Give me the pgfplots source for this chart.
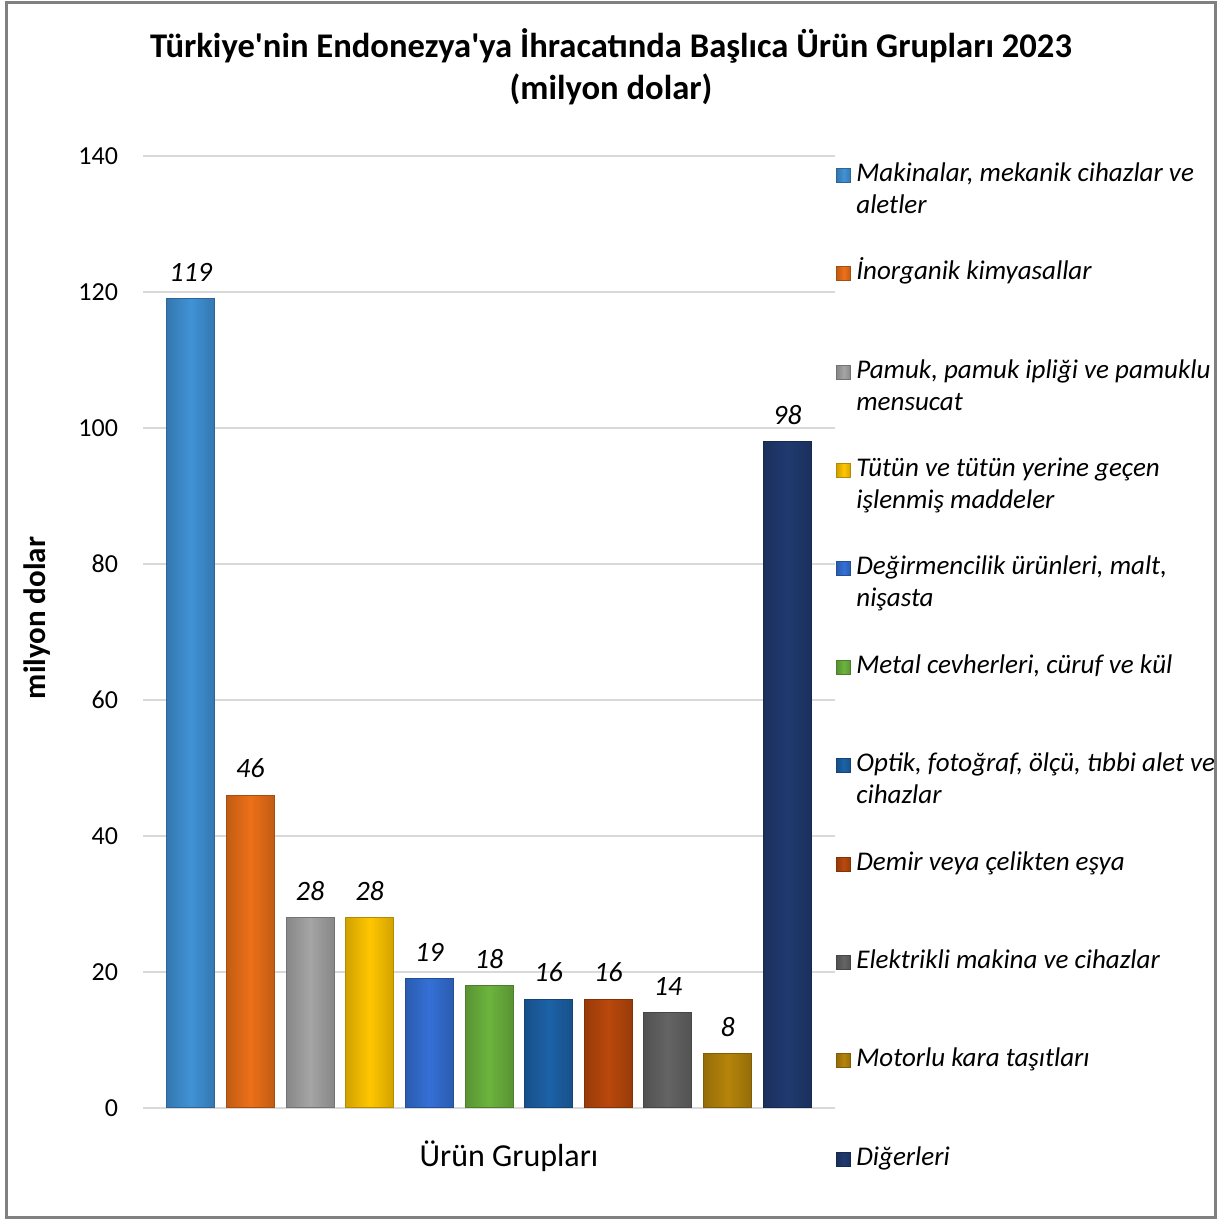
\documentclass[border=0pt]{standalone}
\usepackage{pgfplots}
\pgfplotsset{compat=1.18}
\usepackage{fontspec}
\setmainfont{Carlito}

\definecolor{c1}{RGB}{64,146,214}
\definecolor{c2}{RGB}{236,112,24}
\definecolor{c3}{RGB}{165,165,165}
\definecolor{c4}{RGB}{255,198,0}
\definecolor{c5}{RGB}{52,112,214}
\definecolor{c6}{RGB}{108,180,62}
\definecolor{c7}{RGB}{28,98,168}
\definecolor{c8}{RGB}{186,72,12}
\definecolor{c9}{RGB}{100,100,100}
\definecolor{c10}{RGB}{182,132,10}
\definecolor{c11}{RGB}{32,58,112}
\definecolor{framegray}{RGB}{128,128,128}

% legend square sits at the first of two text lines
\pgfplotsset{
  squarelegend/.style={legend image code/.code={\fill[##1] (0pt,15.5pt) rectangle (7pt,22.5pt);}},
  bevel/.style={fill=#1, draw=#1!70!black, left color=#1!82!black, right color=#1!82!black, middle color=#1},
}

\begin{document}
\begin{tikzpicture}
\useasboundingbox (0,0) rectangle (608.5pt,610pt);
\begin{axis}[
  at={(71.5pt,56pt)}, anchor=south west,
  scale only axis, width=346pt, height=476pt,
  ybar,
  xmin=-0.8, xmax=10.8, ymin=0, ymax=140,
  ytick={0,20,...,140}, xtick=\empty,
  axis line style={draw=none},
  major tick length=0pt,
  ymajorgrids,
  major grid style={draw=black!15, line width=1pt},
  /pgf/number format/assume math mode=true,
  yticklabel style={font=\fontsize{13}{15}\selectfont, xshift=-9pt},
  nodes near coords,
  every node near coord/.append style={font=\fontsize{14}{16}\selectfont\itshape, yshift=5pt},
  legend style={at={(1.0014,1.0015)}, anchor=north west, draw=none, fill=none,
    inner sep=0pt, row sep=16.5pt, column sep=0.5pt,
    font=\fontsize{13.5}{16}\selectfont\itshape,
    cells={anchor=base west, align=left, inner sep=0pt}},
  every axis plot/.append style={bar shift=0pt, bar width=24pt, line width=0.5pt, squarelegend},
]
\addplot[bevel=c1] coordinates {(0,119)};
\addlegendentry{\strut Makinalar, mekanik cihazlar ve\\aletler\strut}
\addplot[bevel=c2] coordinates {(1,46)};
\addlegendentry{\strut İnorganik kimyasallar\\\strut}
\addplot[bevel=c3] coordinates {(2,28)};
\addlegendentry{\strut Pamuk, pamuk ipliği ve pamuklu\\mensucat\strut}
\addplot[bevel=c4] coordinates {(3,28)};
\addlegendentry{\strut Tütün ve tütün yerine geçen\\işlenmiş maddeler\strut}
\addplot[bevel=c5] coordinates {(4,19)};
\addlegendentry{\strut Değirmencilik ürünleri, malt,\\nişasta\strut}
\addplot[bevel=c6] coordinates {(5,18)};
\addlegendentry{\strut Metal cevherleri, cüruf ve kül\\\strut}
\addplot[bevel=c7] coordinates {(6,16)};
\addlegendentry{\strut Optik, fotoğraf, ölçü, tıbbi alet ve\\cihazlar\strut}
\addplot[bevel=c8] coordinates {(7,16)};
\addlegendentry{\strut Demir veya çelikten eşya\\\strut}
\addplot[bevel=c9] coordinates {(8,14)};
\addlegendentry{\strut Elektrikli makina ve cihazlar\\\strut}
\addplot[bevel=c10] coordinates {(9,8)};
\addlegendentry{\strut Motorlu kara taşıtları\\\strut}
\addplot[bevel=c11] coordinates {(10,98)};
\addlegendentry{\strut Diğerleri\\\strut}
\end{axis}
\draw[framegray, line width=1.5pt] (3.25pt,1pt) rectangle (607.5pt,608.5pt);
\node[align=center, font=\fontsize{17.3}{21}\selectfont\bfseries] at (305.5pt,576.5pt)
  {Türkiye\textquotesingle nin Endonezya\textquotesingle ya İhracatında Başlıca Ürün Grupları 2023\\(milyon dolar)};
\node[rotate=90, font=\fontsize{15.5}{17}\selectfont\bfseries] at (18.5pt,301pt) {milyon dolar};
\node[font=\fontsize{16}{18}\selectfont] at (254.5pt,32pt) {Ürün Grupları};
\end{tikzpicture}
\end{document}
